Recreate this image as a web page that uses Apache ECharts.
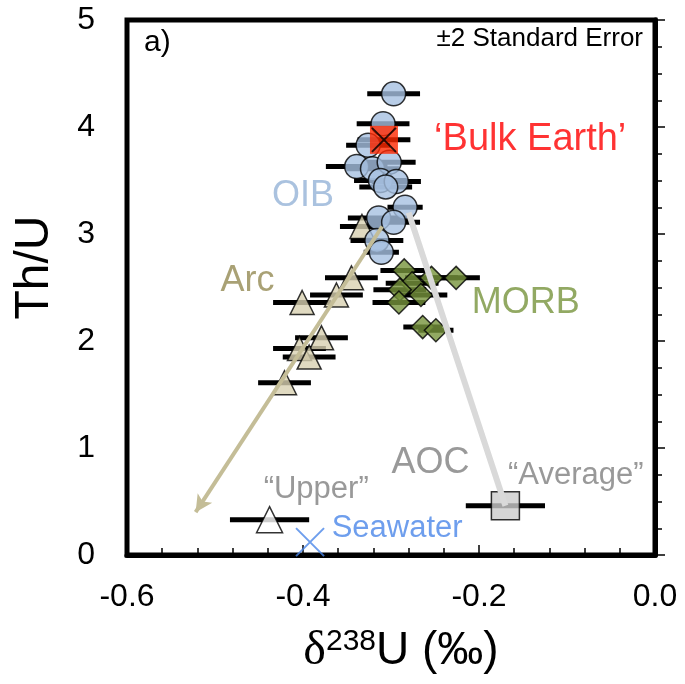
<!DOCTYPE html>
<html>
<head>
<meta charset="utf-8">
<script src="https://cdn.jsdelivr.net/npm/echarts@6/dist/echarts.min.js"></script>
<style>
  html, body { margin: 0; padding: 0; background: #fff; }
  #chart { width: 685px; height: 684px; }
</style>
</head>
<body>
<div id="chart"></div>
<script>
// OIB
var oibX   = [-0.297, -0.309, -0.326, -0.339, -0.321, -0.302, -0.312, -0.294, -0.306, -0.284, -0.314, -0.297, -0.316, -0.311];
var oibY   = [4.31, 4.03, 3.83, 3.63, 3.61, 3.67, 3.50, 3.49, 3.44, 3.25, 3.15, 3.11, 2.94, 2.83];
var oibErr = [0.030, 0.030, 0.025, 0.035, 0.030, 0.030, 0.030, 0.028, 0.030, 0.020, 0.035, 0.030, 0.030, 0.020];
// MORB
var morbX   = [-0.285, -0.254, -0.226, -0.276, -0.290, -0.266, -0.291, -0.264, -0.249];
var morbY   = [2.66, 2.59, 2.59, 2.54, 2.48, 2.43, 2.36, 2.13, 2.10];
var morbErr = [0.027, 0.030, 0.027, 0.030, 0.030, 0.030, 0.030, 0.022, 0.020];
// Arc
var arcX   = [-0.333, -0.345, -0.362, -0.401, -0.379, -0.404, -0.393, -0.421];
var arcY   = [3.07, 2.59, 2.43, 2.36, 2.03, 1.93, 1.85, 1.61];
var arcErr = [0.025, 0.030, 0.030, 0.033, 0.030, 0.030, 0.030, 0.030];
// single points
var bulkEarth = [-0.308, 3.88, 0.030];
var upperAOC  = [-0.438, 0.33, 0.045];
var avgAOC    = [-0.170, 0.46, 0.045];
var seawater  = [-0.392, 0.12];
// trend lines
var arcTrend = [[-0.310, 3.07], [-0.522, 0.40]];
var aocMix   = [[-0.280, 3.20], [-0.170, 0.46]];
// annotations
var noteText = ['OIB', 'Arc', 'MORB', 'AOC', '\u201CAverage\u201D', '\u201CUpper\u201D', 'Seawater', '\u2018Bulk Earth\u2019'];
var noteX    = [-0.400, -0.463, -0.147, -0.255, -0.090, -0.385, -0.293, -0.251];
var noteY    = [3.355, 2.56, 2.35, 0.86, 0.74, 0.61, 0.25, 3.88];

var FONT = 'Liberation Sans';
var chart = echarts.init(document.getElementById('chart'));

function zip3(a, b, c) {
    return a.map(function (v, i) { return [v, b[i], c[i]]; });
}

function errorBars(data) {
    return {
        type: 'custom',
        silent: true,
        data: data,
        renderItem: function (params, api) {
            var x = api.value(0), y = api.value(1), e = api.value(2);
            var p1 = api.coord([x - e, y]);
            var p2 = api.coord([x + e, y]);
            return {
                type: 'line',
                shape: { x1: p1[0], y1: p1[1], x2: p2[0], y2: p2[1] },
                style: { stroke: '#000', lineWidth: 5 }
            };
        }
    };
}

function pts(xs, ys) {
    return xs.map(function (v, i) { return [v, ys[i]]; });
}

var noteColors = {
    'OIB': '#95b3d7', 'Arc': '#938953', 'MORB': '#77933c', 'AOC': '#808080',
    '\u201CAverage\u201D': '#808080', '\u201CUpper\u201D': '#808080',
    'Seawater': '#4a86e8', '\u2018Bulk Earth\u2019': '#ff0000'
};
var noteSizes = { '\u201CAverage\u201D': 31, '\u201CUpper\u201D': 31, 'Seawater': 31, '\u2018Bulk Earth\u2019': 38 };

var option = {
    animation: false,
    grid: {
        left: 127, right: 30, top: 20, bottom: 129,
        outerBoundsMode: 'none', containLabel: false,
        show: true, borderColor: '#000', borderWidth: 5
    },
    xAxis: {
        type: 'value', min: -0.6, max: 0, interval: 0.2,
        name: '{d|\u03B4}{s|238}{n|U (\u2030)}',
        nameLocation: 'middle', nameGap: 72,
        nameTextStyle: {
            padding: [0, 0, 0, 20],
            rich: {
                d: { fontFamily: 'Liberation Serif', fontSize: 48, color: '#000' },
                s: { fontFamily: FONT, fontSize: 30, color: '#000', verticalAlign: 'top', padding: [0, 0, 16, 0] },
                n: { fontFamily: FONT, fontSize: 46, color: '#000' }
            }
        },
        axisLine: { lineStyle: { color: '#000', width: 5 } },
        axisTick: { inside: true, length: 10, lineStyle: { color: '#000', width: 1.5 } },
        minorTick: { show: true, splitNumber: 5, length: 7, lineStyle: { color: '#000', width: 1.5 } },
        splitLine: { show: false },
        axisLabel: {
            margin: 26, fontSize: 32, fontFamily: FONT, color: '#000',
            formatter: function (v) { return Math.abs(v) < 1e-9 ? '0.0' : v.toFixed(1); }
        }
    },
    yAxis: {
        type: 'value', min: 0, max: 5, interval: 1,
        name: 'Th/U', nameLocation: 'middle', nameGap: 68,
        nameTextStyle: { fontFamily: FONT, fontSize: 48, color: '#000', padding: [0, 0, 0, 40] },
        axisLine: { lineStyle: { color: '#000', width: 5 } },
        axisTick: { inside: true, length: 10, lineStyle: { color: '#000', width: 1.5 } },
        minorTick: { show: true, splitNumber: 4, length: 7, lineStyle: { color: '#000', width: 1.5 } },
        splitLine: { show: false },
        axisLabel: { margin: 32, fontSize: 32, fontFamily: FONT, color: '#000' }
    },
    graphic: [
        { type: 'text', left: 144, top: 28, style: { text: 'a)', font: '30px "Liberation Sans"', fill: '#000' } },
        { type: 'text', right: 42, top: 26, style: { text: '\u00B12 Standard Error', font: '26px "Liberation Sans"', fill: '#000' } }
    ],
    series: [
        {
            type: 'line', data: aocMix, symbol: 'none', showSymbol: false, silent: true,
            lineStyle: { color: '#d9d9d9', width: 6 }
        },
        errorBars(zip3(arcX, arcY, arcErr)),
        errorBars(zip3(morbX, morbY, morbErr)),
        errorBars(zip3(oibX, oibY, oibErr)),
        errorBars([bulkEarth, upperAOC, avgAOC]),
        {
            type: 'scatter', data: pts(arcX, arcY), symbol: 'triangle', symbolSize: 24,
            itemStyle: { color: '#d8d1b2', borderColor: '#000', borderWidth: 1.5 },
            markLine: {
                silent: true, animation: false,
                symbol: ['none', 'arrow'], symbolSize: [13, 17],
                label: { show: false },
                lineStyle: { color: '#c4bd97', width: 4, type: 'solid' },
                data: [[{ coord: arcTrend[0] }, { coord: arcTrend[1] }]]
            }
        },
        {
            type: 'scatter', data: pts(morbX, morbY), symbol: 'diamond', symbolSize: 23,
            itemStyle: { color: '#77933c', borderColor: '#000', borderWidth: 1.5 }
        },
        {
            type: 'scatter', data: pts(oibX, oibY), symbol: 'circle', symbolSize: 24,
            itemStyle: { color: '#a6c0e1', borderColor: '#000', borderWidth: 1.5 }
        },
        {
            type: 'scatter', data: [bulkEarth.slice(0, 2)], symbol: 'rect', symbolSize: 28,
            itemStyle: { color: '#ff2800' }
        },
        {
            type: 'scatter', data: [bulkEarth.slice(0, 2)], symbol: 'path://M0,0L10,10M10,0L0,10', symbolSize: 24,
            itemStyle: { color: 'transparent', borderColor: '#000', borderWidth: 2 }
        },
        {
            type: 'scatter', data: [avgAOC.slice(0, 2)], symbol: 'rect', symbolSize: 28,
            itemStyle: { color: '#cccccc', borderColor: '#000', borderWidth: 1.5 }
        },
        {
            type: 'scatter', data: [upperAOC.slice(0, 2)], symbol: 'triangle', symbolSize: 26,
            itemStyle: { color: '#fff', borderColor: '#000', borderWidth: 1.5 }
        },
        {
            type: 'scatter', data: [seawater], symbol: 'path://M0,0L10,10M10,0L0,10', symbolSize: 28,
            itemStyle: { color: 'transparent', borderColor: '#4a86e8', borderWidth: 2 }
        },
        {
            type: 'scatter', symbolSize: 0, silent: true,
            data: noteText.map(function (t, i) {
                return {
                    name: t, value: [noteX[i], noteY[i]],
                    label: {
                        show: true, formatter: '{b}', position: 'inside',
                        align: t.indexOf('Bulk') >= 0 ? 'left' : 'center',
                        fontFamily: FONT, fontSize: noteSizes[t] || 36, color: noteColors[t]
                    }
                };
            })
        }
    ]
};
chart.setOption(option);
</script>
</body>
</html>
